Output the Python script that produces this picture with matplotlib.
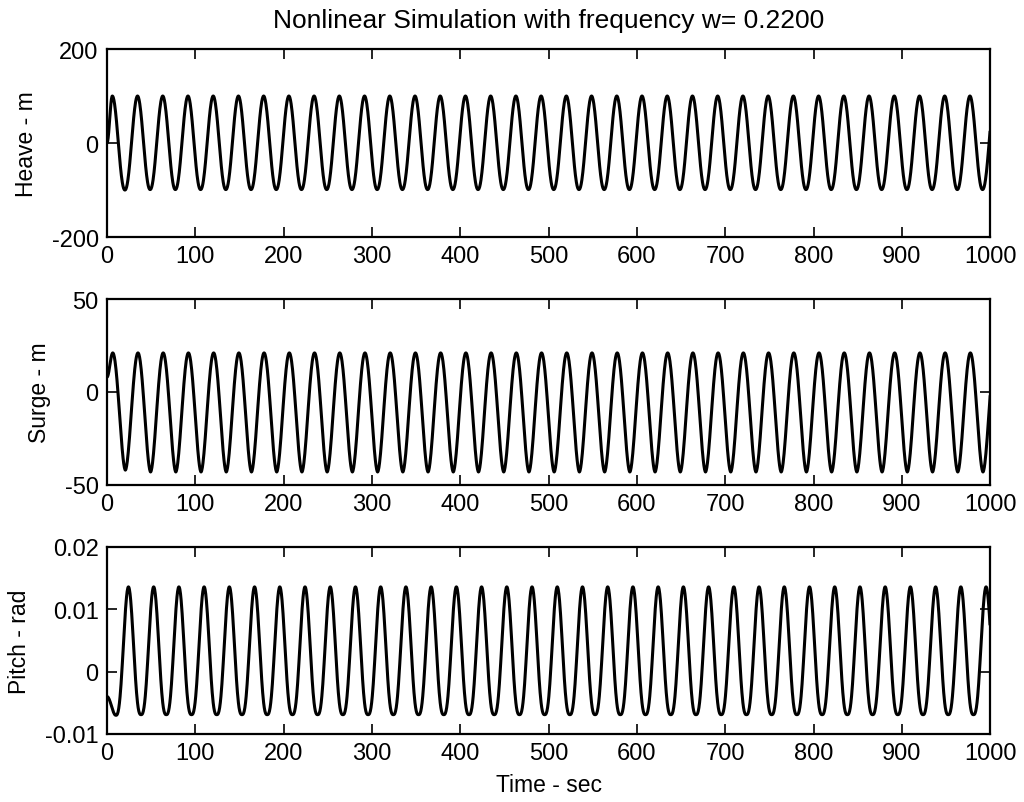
import numpy as np
import matplotlib.pyplot as plt

plt.rcParams.update({
    "font.family": ["Liberation Sans", "DejaVu Sans"],
    "font.size": 17,
    "axes.unicode_minus": False,
    "axes.linewidth": 1.6,
})

# forcing frequency from the title (rad/s)
w = 0.22
period = 2 * np.pi / w
t_end = 1000.0

# extrema, one value per cycle
heave_first = 6.0          # time of first peak
heave_start = 0.0          # value at t = 0
heave_peaks = [100, 100, 100, 100, 100, 100, 100, 100, 100, 100, 100, 100,
               100, 100, 100, 100, 100, 100, 100, 100, 100, 100, 100, 100,
               100, 100, 100, 100, 100, 100, 100, 100, 100, 100, 100, 100]
heave_troughs = [-100, -99, -99, -99, -99, -99, -99, -99, -99, -99, -99, -99,
                 -99, -99, -99, -99, -99, -99, -99, -99, -99, -99, -99, -99,
                 -99, -99, -99, -99, -99, -99, -99, -99, -99, -99, -99]

surge_first = 6.5
surge_start = 8.0
surge_peaks = [21, 21, 21, 21, 21, 21, 21, 21, 21, 21, 21, 21,
               21, 21, 21, 21, 21, 21, 21, 21, 21, 21, 21, 21,
               21, 21, 21, 21, 21, 21, 21, 21, 21, 21, 21, 21]
surge_troughs = [-42, -43, -43, -43, -43, -43, -43, -43, -43, -43, -43, -43,
                 -43, -43, -43, -43, -43, -43, -43, -43, -43, -43, -43, -43,
                 -43, -43, -43, -43, -43, -43, -43, -43, -43, -43, -43]

pitch_first = 10.0         # time of first trough
pitch_start = -0.004
pitch_troughs = [
    -0.0070, -0.0069, -0.0069, -0.0069, -0.0069, -0.0069, -0.0069, -0.0069,
    -0.0069, -0.0069, -0.0069, -0.0069, -0.0069, -0.0069, -0.0069, -0.0069,
    -0.0069, -0.0069, -0.0069, -0.0069, -0.0069, -0.0069, -0.0069, -0.0069,
    -0.0069, -0.0069, -0.0069, -0.0069, -0.0069, -0.0069, -0.0069, -0.0069,
    -0.0069, -0.0069, -0.0069, -0.0069]
pitch_peaks = [
    0.0136, 0.0136, 0.0136, 0.0136, 0.0136, 0.0136, 0.0136, 0.0136,
    0.0136, 0.0136, 0.0136, 0.0136, 0.0136, 0.0136, 0.0136, 0.0136,
    0.0136, 0.0136, 0.0136, 0.0136, 0.0136, 0.0136, 0.0136, 0.0136,
    0.0136, 0.0136, 0.0136, 0.0136, 0.0136, 0.0136, 0.0136, 0.0136,
    0.0136, 0.0136, 0.0136]


def trace(first_t, start_val, first_list, second_list, sharp):
    """Join the read extrema with half-cosine arcs (sharp > 1: narrow peaks)."""
    vals = []
    for i in range(len(first_list)):
        vals.append(first_list[i])
        if i < len(second_list):
            vals.append(second_list[i])
    times = first_t + np.arange(len(vals)) * period / 2
    t_all = [np.linspace(0, first_t, 20)]
    s = (1 - np.cos(np.pi * np.linspace(0, 1, 20))) / 2
    y_all = [start_val + (vals[0] - start_val) * s]
    u = np.linspace(0, 1, 40)[1:]
    s = (1 - np.cos(np.pi * u)) / 2
    for k in range(len(vals) - 1):
        ya, yb = vals[k], vals[k + 1]
        lo, hi = min(ya, yb), max(ya, yb)
        h = s if yb > ya else 1 - s
        t_all.append(times[k] + u * period / 2)
        y_all.append(lo + (hi - lo) * h ** sharp)
    t = np.concatenate(t_all)
    y = np.concatenate(y_all)
    keep = t <= t_end
    return t[keep], y[keep]


t_h, y_h = trace(heave_first, heave_start, heave_peaks, heave_troughs, 1.1)
t_s, y_s = trace(surge_first, surge_start, surge_peaks, surge_troughs, 0.9)
t_p, y_p = trace(pitch_first, pitch_start, pitch_troughs, pitch_peaks, 1.4)

fig = plt.figure(figsize=(10.24, 8.03), dpi=100)
ax1 = fig.add_axes([0.1045, 0.7036, 0.8625, 0.2341])
ax2 = fig.add_axes([0.1045, 0.3948, 0.8625, 0.2316])
ax3 = fig.add_axes([0.1045, 0.0847, 0.8625, 0.2329])

panels = [
    (ax1, t_h, y_h, (-200, 200), [-200, 0, 200], ["-200", "0", "200"], "Heave - m"),
    (ax2, t_s, y_s, (-50, 50), [-50, 0, 50], ["-50", "0", "50"], "Surge - m"),
    (ax3, t_p, y_p, (-0.01, 0.02), [-0.01, 0, 0.01, 0.02],
     ["-0.01", "0", "0.01", "0.02"], "Pitch - rad"),
]

for ax, t, y, ylim, yt, ytl, lab in panels:
    ax.plot(t, y, color="black", linewidth=2.2)
    ax.set_xlim(0, 1000)
    ax.set_ylim(*ylim)
    ax.set_xticks(np.arange(0, 1001, 100))
    ax.set_yticks(yt)
    ax.set_yticklabels(ytl)
    ax.tick_params(direction="in", length=7, width=1.2, top=True, right=True,
                   labelsize=17, pad=6)
    ax.set_ylabel(lab, fontsize=16.5, labelpad=10)

ax1.set_title("Nonlinear Simulation with frequency w= 0.2200", fontsize=19, pad=16)
ax3.set_xlabel("Time - sec", fontsize=16.5, labelpad=6)

fig.savefig("out.png", dpi=100)
